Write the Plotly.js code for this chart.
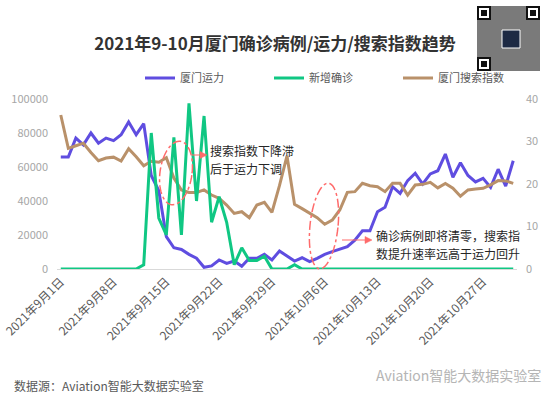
<!DOCTYPE html>
<html>
<head>
<meta charset="utf-8">
<script src="https://cdn.plot.ly/plotly-3.0.1.min.js"></script>
<style>
html,body{margin:0;padding:0;background:#fff;}
#chart{width:548px;height:397px;}
</style>
</head>
<body>
<div id="chart"></div>
<script>
// ---- data ----
const startDate = '2021-09-01';
const dayCount = 61;
const seriesNames = ['厦门运力', '新增确诊', '厦门搜索指数'];
const capacity = [65900,65900,77000,73000,80000,74000,77000,75500,79000,86500,
  79000,85500,55000,46000,19000,12500,11500,8600,6300,1000,
  1800,5300,3300,4700,1600,6300,6300,8600,5300,10600,
  7600,4700,6600,4300,6300,8600,10200,11600,13100,17000,
  22500,22500,33700,36300,48400,44500,52000,56300,50000,55900,
  57800,67600,54000,62500,55000,51200,53300,48000,58700,48800,
  63700];
const newCases = [0,0,0,0,0,0,0,0,0,0,
  0,1,32,12,8,31,8,39,16,36,
  11,17,11,1,5,2,2,3,0,0,
  0,1,0,0,0,0,0,0,0,0,
  0,0,0,0,0,0,0,0,0,0,
  0,0,0,0,0,0,0,0,0,0,
  0];
const searchIndex = [90600,71000,72500,74000,68500,63700,65300,65800,63500,70800,
  66000,60700,63400,62800,65500,53500,46500,45000,45000,46500,
  43500,41600,37600,32700,33700,30200,37600,39200,33300,49000,
  66500,38000,35500,32700,30200,26300,28800,34700,45100,45500,
  50400,49000,48400,45500,50400,50400,43500,49400,49800,51000,
  47700,50300,47500,42800,46500,47000,47500,49500,52000,51800,
  50400];
const leftTicks = [0,20000,40000,60000,80000,100000];
const rightTicks = [0,10,20,30,40];
const titleText = '2021年9-10月厦门确诊病例/运力/搜索指数趋势';
const note1Lines = ['搜索指数下降滞', '后于运力下调'];
const note2Lines = ['确诊病例即将清零，搜索指', '数提升速率远高于运力回升'];
const sourceText = '数据源：Aviation智能大数据实验室';
const watermarkText = 'Aviation智能大数据实验室';

// dates (categories)
const dates = [];
(function(){
  const d0 = new Date(startDate + 'T00:00:00Z');
  for (let i = 0; i < dayCount; i++) {
    const d = new Date(d0.getTime() + i*86400000);
    dates.push(d.toISOString().slice(0,10));
  }
})();

// ---- layout helpers (pixel -> paper) ----
const L = 57, R = 517, T = 99, B = 269;
const px = x => (x - L) / (R - L);
const py = y => (B - y) / (B - T);
function ellipsePath(cx, cy, rx, ry, angDeg) {
  const a = angDeg * Math.PI / 180;
  let s = '';
  for (let i = 0; i <= 72; i++) {
    const t = i / 72 * 2 * Math.PI;
    const ex = rx * Math.cos(t), ey = ry * Math.sin(t);
    const X = cx + ex * Math.cos(a) - ey * Math.sin(a);
    const Y = cy + ex * Math.sin(a) + ey * Math.cos(a);
    s += (i === 0 ? 'M' : 'L') + px(X).toFixed(5) + ',' + py(Y).toFixed(5);
  }
  return s + 'Z';
}

const FONT = '"Noto Sans CJK SC", "Noto Sans", sans-serif';
const RED = '#ff6b6b';

const traces = [
  {x: dates, y: capacity, name: seriesNames[0], type: 'scatter', mode: 'lines',
   line: {color: '#5f4de0', width: 3}, yaxis: 'y'},
  {x: dates, y: newCases, name: seriesNames[1], type: 'scatter', mode: 'lines',
   line: {color: '#10c783', width: 3}, yaxis: 'y2'},
  {x: dates, y: searchIndex, name: seriesNames[2], type: 'scatter', mode: 'lines',
   line: {color: '#b9916a', width: 3}, yaxis: 'y'}
];

const shapes = [
  {type: 'path', xref: 'paper', yref: 'paper', path: ellipsePath(176, 173, 16, 32, 8),
   line: {color: RED, width: 1.5, dash: 'dashdot'}},
  {type: 'path', xref: 'paper', yref: 'paper', path: ellipsePath(324, 226, 14, 43, 6),
   line: {color: RED, width: 1.5, dash: 'dashdot'}}
];
// arrows (line + head)
function arrow(x0, x1, y) {
  shapes.push({type:'line', xref:'paper', yref:'paper', x0:px(x0), x1:px(x1-5), y0:py(y), y1:py(y),
    line:{color:RED, width:1}});
  shapes.push({type:'path', xref:'paper', yref:'paper',
    path:'M'+px(x1)+','+py(y)+'L'+px(x1-7)+','+py(y-3.5)+'L'+px(x1-7)+','+py(y+3.5)+'Z',
    fillcolor:RED, line:{color:RED, width:0.5}});
}
arrow(192, 207, 155);
arrow(342, 372, 240);
// QR code decoration
shapes.push({type: 'rect', xref: 'paper', yref: 'paper', x0: px(477), x1: px(540), y0: py(71), y1: py(6),
   fillcolor: '#7a7a7a', line: {width: 0}, layer: 'above'});
[[477,6],[526,6],[477,57]].forEach(function(p){
  shapes.push({type:'rect', xref:'paper', yref:'paper', x0:px(p[0]), x1:px(p[0]+14), y0:py(p[1]+14), y1:py(p[1]),
    fillcolor:'#111', line:{width:0}, layer:'above'});
  shapes.push({type:'rect', xref:'paper', yref:'paper', x0:px(p[0]+2), x1:px(p[0]+12), y0:py(p[1]+12), y1:py(p[1]+2),
    fillcolor:'#fff', line:{width:0}, layer:'above'});
  shapes.push({type:'rect', xref:'paper', yref:'paper', x0:px(p[0]+4), x1:px(p[0]+10), y0:py(p[1]+10), y1:py(p[1]+4),
    fillcolor:'#111', line:{width:0}, layer:'above'});
});
shapes.push({type:'rect', xref:'paper', yref:'paper', x0:px(502), x1:px(520), y0:py(48), y1:py(30),
  fillcolor:'#1d2a44', line:{color:'#fff', width:1}, layer:'above'});

const noteFont = {family: FONT, size: 12, color: '#262626'};
const annotations = [];
function noteLines(lines, x, yFirst, gap) {
  lines.forEach(function(t, i){
    annotations.push({xref:'paper', yref:'paper', x: px(x), y: py(yFirst + i*gap), xanchor:'left',
      yanchor:'middle', align:'left', text: t, showarrow:false, font: noteFont, borderpad: 0});
  });
}
noteLines(note1Lines, 209, 150.5, 17.5);
noteLines(note2Lines, 375, 235.5, 17.5);
annotations.push(
  {xref:'paper', yref:'paper', x: px(12), y: py(385), xanchor:'left', yanchor:'middle',
   text: sourceText, showarrow:false, font:{family:FONT, size:12, color:'#595959'}},
  {xref:'paper', yref:'paper', x: px(374), y: py(375), xanchor:'left', yanchor:'middle',
   text: watermarkText, showarrow:false, font:{family:FONT, size:14, color:'#b5b5b5'}}
);

const layout = {
  width: 548, height: 397,
  margin: {l: L, r: 548 - R, t: T, b: 397 - B, pad: 0},
  paper_bgcolor: '#fff', plot_bgcolor: '#fff',
  font: {family: FONT, color: '#595959'},
  title: {text: '<b>' + titleText + '</b>', x: 275/548, xanchor: 'center', y: 1 - 44/397, yanchor: 'middle',
          font: {family: FONT, size: 17, color: '#333333'}},
  showlegend: true,
  legend: {orientation: 'h', x: px(140), xanchor: 'left', y: py(78), yanchor: 'middle',
           entrywidth: 84, entrywidthmode: 'pixels', font: {family: FONT, size: 11, color: '#595959'},
           bgcolor: 'rgba(0,0,0,0)'},
  xaxis: {type: 'date', range: ['2021-08-31 12:00', '2021-10-31 12:00'],
          tick0: '2021-09-01', dtick: 7*86400000, tickformat: '%Y年%-m月%-d日',
          tickangle: -45, tickfont: {family: FONT, size: 12, color: '#595959'},
          showgrid: false, zeroline: false, showline: true, linecolor: '#d9d9d9', linewidth: 1,
          ticks: '', fixedrange: true},
  yaxis: {range: [0, 100000], tickvals: leftTicks, ticktext: leftTicks.map(String),
          tickfont: {family: FONT, size: 11, color: '#a6a6a6'}, showgrid: false, zeroline: false,
          showline: false, ticks: '', ticklabelstandoff: 8},
  yaxis2: {range: [0, 40], tickvals: rightTicks, overlaying: 'y', side: 'right',
          tickfont: {family: FONT, size: 11, color: '#a6a6a6'}, showgrid: false, zeroline: false,
          showline: false, ticks: '', ticklabelstandoff: 8},
  shapes: shapes,
  annotations: annotations
};

Plotly.newPlot('chart', traces, layout, {staticPlot: true, displayModeBar: false});
</script>
</body>
</html>
